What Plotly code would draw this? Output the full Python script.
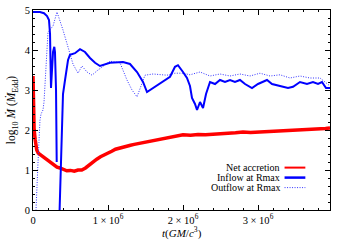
import plotly.graph_objects as go

# time in units of 1e6 GM/c^3
red_t = [0, 0.005, 0.015, 0.03, 0.05, 0.07, 0.1, 0.13, 0.15, 0.19, 0.23, 0.27, 0.32, 0.36, 0.4, 0.45, 0.5,
         0.55, 0.6, 0.65, 0.7, 0.75, 0.8, 0.85, 0.9, 0.95, 1.0, 1.05, 1.1, 1.15, 1.2, 1.25, 1.3, 1.35, 1.4,
         1.45, 1.5, 1.55, 1.6, 1.65, 1.7, 1.75, 1.8, 1.85, 1.9, 1.95, 2.0, 2.1, 2.2, 2.3, 2.4, 2.5, 2.6,
         2.7, 2.8, 2.9, 3.0, 3.1, 3.2, 3.3, 3.4, 3.5, 3.6, 3.7, 3.8, 3.9, 3.96]
red_v = [3.35, 2.4, 2.0, 1.75, 1.5, 1.42, 1.38, 1.33, 1.3, 1.26, 1.2, 1.15, 1.07, 1.05, 1.02, 0.98, 0.99,
         0.97, 1.0, 1.0, 1.05, 1.13, 1.2, 1.27, 1.33, 1.37, 1.42, 1.47, 1.52, 1.55, 1.57, 1.6, 1.62, 1.64,
         1.66, 1.68, 1.7, 1.71, 1.73, 1.76, 1.78, 1.8, 1.81, 1.83, 1.86, 1.87, 1.88, 1.87, 1.89, 1.88, 1.9,
         1.91, 1.92, 1.93, 1.95, 1.94, 1.95, 1.96, 1.97, 1.97, 1.99, 2.0, 2.01, 2.0, 2.03, 2.04, 2.05]

in_t = [0, 0.093, 0.147, 0.187, 0.213, 0.227, 0.24, 0.253, 0.267, 0.284, 0.293, 0.307, 0.316, 0.32,
        0.35, 0.383, 0.4, 0.427, 0.467, 0.493, 0.56, 0.627, 0.693, 0.76, 0.827, 0.893, 1.027, 1.2, 1.293,
        1.387, 1.467, 1.52, 1.56, 1.653, 1.733, 1.827, 1.893, 1.933, 2.0, 2.053, 2.093, 2.12, 2.16, 2.187,
        2.227, 2.267, 2.307, 2.36, 2.427, 2.493, 2.56, 2.627, 2.693, 2.76, 2.827, 2.92, 3.0, 3.053, 3.12,
        3.187, 3.293, 3.4, 3.467, 3.56, 3.653, 3.733, 3.8, 3.853, 3.907, 3.96]
in_v = [4.95, 4.95, 4.92, 4.85, 4.75, 4.4, 3.05, 3.5, 3.95, 4.08, 3.95, 3.0, 1.2, None,
        -0.3, 2.25, 2.9, 3.25, 3.75, 3.88, 3.92, 4.02, 3.95, 3.8, 3.68, 3.6, 3.68, 3.7, 3.65,
        3.45, 3.2, 2.95, 3.0, 3.12, 3.2, 3.33, 3.58, 3.62, 3.45, 3.3, 3.1, 2.8, 2.65, 2.5,
        2.7, 2.55, 2.9, 3.2, 3.15, 3.25, 3.2, 3.25, 3.2, 3.25, 3.15, 3.05, 3.15, 3.2, 3.25,
        3.15, 3.1, 3.05, 3.08, 3.2, 3.15, 3.2, 3.15, 3.2, 3.05, 3.05]

out_t = [0.033, 0.04, 0.067, 0.093, 0.107, 0.133, 0.147, 0.173, 0.2, 0.267, 0.32, 0.4, 0.493, 0.533,
         0.6, 0.653, 0.72, 0.787, 0.853, 0.987, 1.027, 1.093, 1.16, 1.253, 1.32, 1.387, 1.453, 1.493,
         1.6, 1.693, 1.787, 1.893, 2.0, 2.093, 2.227, 2.36, 2.493, 2.627, 2.76, 2.893, 3.027, 3.16,
         3.293, 3.427, 3.56, 3.693, 3.827, 3.96]
out_v = [-0.2, 0.0, 1.2, 2.25, 2.4, 2.5, 2.7, 3.7, 4.45, 4.6, 4.95, 4.5, 3.9, 3.65,
         3.42, 3.6, 3.45, 3.37, 3.48, 3.67, 3.72, 3.7, 3.68, 3.25, 3.0, 2.83, 3.17, 3.37,
         3.4, 3.38, 3.37, 3.42, 3.42, 3.38, 3.45, 3.35, 3.4, 3.35, 3.4, 3.35, 3.42, 3.35,
         3.38, 3.3, 3.35, 3.3, 3.3, 3.1]

x_tick_vals = [0, 1, 2, 3]
x_tick_text = ["0", "1 × 10<sup>6</sup>", "2 × 10<sup>6</sup>", "3 × 10<sup>6</sup>"]
y_tick_vals = [0, 1, 2, 3, 4, 5]

names = ["Net accretion", "Inflow at Rmax", "Outflow at Rmax"]
colors = ["#ff0000", "#0000ff", "#3333ff"]

FONT = "Liberation Serif"
DOT = "1px,1.5px"

fig = go.Figure()
fig.add_trace(go.Scatter(x=red_t, y=red_v, mode="lines", name=names[0],
                         line=dict(color=colors[0], width=3.5)))
fig.add_trace(go.Scatter(x=out_t, y=out_v, mode="lines", name=names[2],
                         line=dict(color=colors[2], width=1, dash=DOT)))
fig.add_trace(go.Scatter(x=in_t, y=in_v, mode="lines", name=names[1],
                         line=dict(color=colors[1], width=2), connectgaps=False))

# legend drawn gnuplot-style (text right-aligned, sample on the right)
leg_y = [0.212, 0.162, 0.112]
styles = [dict(color=colors[0], width=2), dict(color=colors[1], width=2.5),
          dict(color=colors[2], width=1, dash=DOT)]
for name, yy, st in zip(names, leg_y, styles):
    fig.add_annotation(x=0.835, y=yy, xref="paper", yref="paper", text=name, showarrow=False,
                       xanchor="right", yanchor="middle", borderpad=0,
                       font=dict(family=FONT, size=10, color="black"))
    fig.add_shape(type="line", xref="paper", yref="paper", x0=0.847, x1=0.917, y0=yy, y1=yy, line=st)

# x-axis title placed like the reference
fig.add_annotation(x=0.5, y=-0.11, xref="paper", yref="paper", showarrow=False,
                   text="<i>t</i>(<i>GM</i>/<i>c</i><sup>3</sup>)", xanchor="center", yanchor="middle",
                   font=dict(family=FONT, size=11, color="black"))

axis_common = dict(showline=True, linecolor="black", linewidth=1, mirror="ticks", ticks="inside",
                   tickcolor="black", ticklen=5, showgrid=False, zeroline=False,
                   tickfont=dict(family=FONT, size=10.5, color="black"))

fig.update_xaxes(range=[0, 3.96], tickvals=x_tick_vals, ticktext=x_tick_text,
                 minor=dict(ticks="inside", ticklen=2, dtick=0.2, tickcolor="black"), **axis_common)
fig.update_yaxes(range=[0, 5], tickvals=y_tick_vals,
                 title=dict(text="log<sub>10</sub> <i>Ṁ</i> (<i>Ṁ</i><sub>Edd</sub>)",
                            font=dict(family=FONT, size=11.5), standoff=6),
                 minor=dict(ticks="inside", ticklen=2, dtick=0.2, tickcolor="black"), **axis_common)

fig.update_layout(width=350, height=245, margin=dict(l=33, r=20, t=10, b=35, autoexpand=False),
                  paper_bgcolor="white", plot_bgcolor="white", showlegend=False,
                  font=dict(family=FONT, size=11, color="black"))

fig.write_html("out.html", config={"displayModeBar": False},
               post_script="document.body.style.margin='0';")
